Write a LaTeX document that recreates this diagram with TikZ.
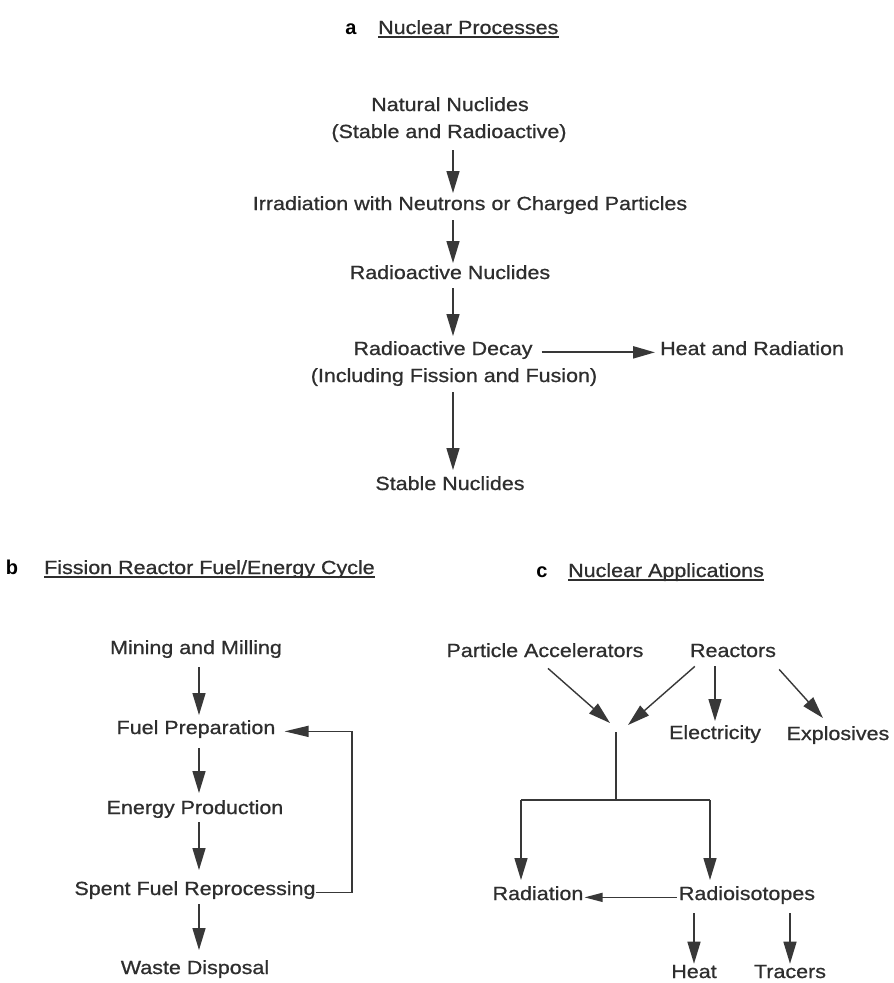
\documentclass[tikz,border=0pt]{standalone}
\usepackage{fontspec}
\setmainfont{Liberation Sans}[FakeStretch=1.13,FakeBold=0.8]
\newfontfamily\tagfont{Liberation Sans Bold}
\usetikzlibrary{arrows.meta}
\definecolor{ink}{HTML}{2E2E2E}
\definecolor{lineink}{HTML}{383838}
\begin{document}
\begin{tikzpicture}[x=1pt,y=-1pt,
  lbl/.style={inner sep=0pt, anchor=base, text=ink, font=\fontsize{19}{27}\selectfont},
  ttl/.style={inner sep=0pt, anchor=base west, text=ink, font=\fontsize{19}{27}\selectfont},
  tag/.style={inner sep=0pt, anchor=base, text=black, font=\fontsize{20}{27}\selectfont\tagfont},
  uline/.style={draw=ink, line width=1.8pt},
  arr/.style={draw=lineink, line width=1.4pt, -{Triangle[length=22pt,width=13pt]}},
  arrs/.style={draw=lineink, line width=1.4pt, -{Triangle[length=18pt,width=9pt]}},
  arrf/.style={draw=lineink, line width=1.4pt, -{Triangle[length=24pt,width=11pt]}},
  arrw/.style={draw=lineink, line width=2.2pt, -{Triangle[length=22pt,width=12pt]}},
  plain/.style={draw=lineink, line width=1.4pt}]
\useasboundingbox (0,0) rectangle (894,983);
\fill[white] (0,0) rectangle (894,983);

% ---------- a ----------
\node[tag] (taga) at (351,34) {a};
\node[ttl] (ta) at (378,34) {Nuclear Processes};
\draw[uline] ([yshift=-3pt]ta.base west) -- ([yshift=-3pt]ta.base east);

\coordinate (ax) at (453,0);
\node[lbl] (nat1) at (450,111) {Natural Nuclides};
\node[lbl] (nat2) at (449,138) {(Stable and Radioactive)};
\node[lbl] (irr) at (470,210) {Irradiation with Neutrons or Charged Particles};
\node[lbl] (rnuc) at (450,279) {Radioactive Nuclides};
\node[lbl] (dec1) at (443,355) {Radioactive Decay};
\node[lbl] (dec2) at (454,382) {(Including Fission and Fusion)};
\node[lbl, anchor=base west] (heat1) at (660,355) {Heat and Radiation};
\node[lbl] (stab) at (450,490) {Stable Nuclides};

\draw[arr, shorten <=8pt, shorten >=3pt] (ax |- nat2.south) -- (ax |- irr.north);
\draw[arr, shorten <=6pt, shorten >=2pt] (ax |- irr.south) -- (ax |- rnuc.north);
\draw[arr, shorten <=9pt, shorten >=5pt] (ax |- rnuc.south) -- (ax |- dec1.north);
\draw[arr, shorten <=6pt, shorten >=6pt] (ax |- dec2.south) -- (ax |- stab.north);
\draw[arrw, shorten <=9pt, shorten >=5pt] (dec1.mid east) -- (heat1.mid west);

% ---------- b ----------
\node[tag] (tagb) at (12,574) {b};
\node[ttl] (tb) at (44,574) {Fission Reactor Fuel/Energy Cycle};
\draw[uline] ([yshift=-3pt]tb.base west) -- ([yshift=-3pt]tb.base east);

\coordinate (bx) at (199,0);
\coordinate (fb) at (352,0);
\node[lbl] (mine) at (196,654) {Mining and Milling};
\node[lbl] (fuel) at (196,734) {Fuel Preparation};
\node[lbl] (energy) at (195,814) {Energy Production};
\node[lbl] (spent) at (195,895) {Spent Fuel Reprocessing};
\node[lbl] (waste) at (195,974) {Waste Disposal};

\draw[arr, shorten <=9pt, shorten >=5pt] (bx |- mine.south) -- (bx |- fuel.north);
\draw[arr, shorten <=10pt, shorten >=7pt] (bx |- fuel.south) -- (bx |- energy.north);
\draw[arr, shorten <=4pt, shorten >=11pt] (bx |- energy.south) -- (bx |- spent.north);
\draw[arr, shorten <=5pt, shorten >=10pt] (bx |- spent.south) -- (bx |- waste.north);
\draw[arrf, shorten >=9pt] (spent.mid east) -- (fb |- spent.mid east) -- (fb |- fuel.mid east) -- (fuel.mid east);

% ---------- c ----------
\node[tag] (tagc) at (542,577) {c};
\node[ttl] (tc) at (568,577) {Nuclear Applications};
\draw[uline] ([yshift=-3pt]tc.base west) -- ([yshift=-3pt]tc.base east);

\node[lbl] (pa) at (545,657) {Particle Accelerators};
\node[lbl] (reac) at (733,657) {Reactors};
\node[lbl] (elec) at (715,739) {Electricity};
\node[lbl] (expl) at (838,740) {Explosives};
\node[lbl] (rad) at (538,900) {Radiation};
\node[lbl] (riso) at (747,900) {Radioisotopes};
\node[lbl] (heat) at (694,978) {Heat};
\node[lbl] (trac) at (790,978) {Tracers};

\coordinate (ptip) at (610,723);
\coordinate (rtip) at (628,725);
\coordinate (j0) at (616,732);
\coordinate (j1) at (616,800);
\coordinate (jl) at (521,800);
\coordinate (jr) at (710,800);

\draw[arr] ([xshift=3pt,yshift=-11pt]pa.south) -- (ptip);
\draw[arr] ([xshift=5pt,yshift=-9pt]reac.south west) -- (rtip);
\draw[arr, shorten <=9pt, shorten >=4pt] (elec |- reac.south) -- (elec.north);
\draw[arr] ([xshift=3pt,yshift=-12pt]reac.south east) -- ([xshift=-15pt,yshift=8pt]expl.north);

\draw[plain] (j0) -- (j1);
\draw[plain] (jl) -- (jr);
\draw[arr, shorten >=6pt] (jl) -- (jl |- rad.north);
\draw[arr, shorten >=6pt] (jr) -- (jr |- riso.north);
\draw[arrs, shorten <=2pt, shorten >=1pt] (riso.mid west) -- (rad.mid east);
\draw[arr, shorten <=9pt, shorten >=1pt] (heat |- riso.south) -- (heat.north);
\draw[arr, shorten <=9pt, shorten >=1pt] (trac |- riso.south) -- (trac.north);
\end{tikzpicture}
\end{document}
